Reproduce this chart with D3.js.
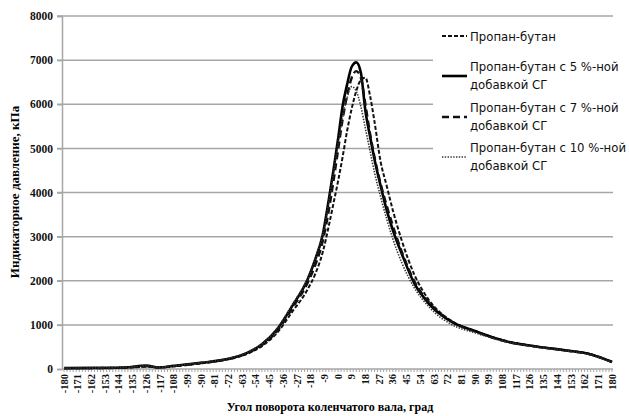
<!DOCTYPE html>
<html>
<head>
<meta charset="utf-8">
<script src="https://cdn.jsdelivr.net/npm/d3@7"></script>
<style>
  body { margin: 0; background: #fff; }
  svg { display: block; }
</style>
</head>
<body>
<script>
// crank angle, degrees
var angles = [-180, -160, -140, -126, -118, -108, -90, -72, -60, -50, -40, -30, -20, -15, -10, -6, -3, 0, 3, 6, 9, 12, 15, 18, 21, 24, 28, 32, 36, 42, 50, 60, 75, 90, 110, 130, 150, 165, 180];

// indicated pressure, kPa
var propaneButane = [15, 20, 30, 50, 40, 60, 130, 220, 340, 520, 820, 1300, 1800, 2150, 2650, 3250, 3750, 4250, 4800, 5400, 5900, 6300, 6550, 6600, 6200, 5600, 4700, 4150, 3600, 2900, 2150, 1550, 1080, 860, 640, 510, 420, 340, 160];
var sg5 = [20, 25, 35, 80, 35, 70, 140, 230, 360, 560, 900, 1430, 2030, 2480, 3050, 3850, 4500, 5200, 5950, 6450, 6850, 6950, 6720, 5850, 5280, 4750, 4150, 3600, 3150, 2600, 1950, 1470, 1060, 860, 630, 510, 420, 340, 160];
var sg7 = [20, 20, 30, 60, 35, 65, 135, 225, 350, 540, 860, 1380, 1950, 2350, 2900, 3600, 4250, 4950, 5650, 6200, 6600, 6750, 6600, 6000, 5350, 4800, 4200, 3700, 3250, 2650, 2000, 1500, 1070, 850, 630, 510, 420, 340, 160];
var sg10 = [20, 25, 35, 70, 40, 70, 145, 240, 370, 570, 920, 1460, 2050, 2500, 3050, 3800, 4450, 5100, 5700, 6150, 6400, 6300, 5950, 5450, 4950, 4450, 3900, 3400, 2950, 2400, 1850, 1400, 1000, 820, 620, 500, 410, 330, 150];

var yTicks = [0, 1000, 2000, 3000, 4000, 5000, 6000, 7000, 8000];
var xTickLabels = [-180, -171, -162, -153, -144, -135, -126, -117, -108, -99, -90, -81, -72, -63, -54, -45, -36, -27, -18, -9, 0, 9, 18, 27, 36, 45, 54, 63, 72, 81, 90, 99, 108, 117, 126, 135, 144, 153, 162, 171, 180];

var seriesNames = ['Пропан-бутан', 'Пропан-бутан с 5 %-ной|добавкой СГ', 'Пропан-бутан с 7 %-ной|добавкой СГ', 'Пропан-бутан с 10 %-ной|добавкой СГ'];

var styles = [
  {dash: '4,2', width: 2, color: '#111'},
  {dash: null, width: 2.6, color: '#000'},
  {dash: '7,4', width: 2.4, color: '#111'},
  {dash: '1.4,1.4', width: 1.6, color: '#333'}
];

var W = 629, H = 416;
var svg = d3.select('body').append('svg').attr('width', W).attr('height', H);

var x = d3.scaleLinear().domain([-180, 180]).range([64, 612]);
var y = d3.scaleLinear().domain([0, 8000]).range([369, 16]);

var serif = '"Liberation Serif", "Times New Roman", serif';
var narrow = '"Liberation Sans Narrow", "DejaVu Sans Condensed", "Liberation Sans", sans-serif';

// gridlines
svg.append('g').selectAll('line').data(yTicks.filter(function(d) { return d > 0; }))
  .enter().append('line')
  .attr('x1', 57).attr('x2', 613)
  .attr('y1', function(d) { return y(d); })
  .attr('y2', function(d) { return y(d); })
  .attr('stroke', '#a6a6a6').attr('stroke-width', 1.5);

// y axis
var yAxis = svg.append('g').attr('transform', 'translate(62,0)')
  .call(d3.axisLeft(y).tickValues(yTicks).tickSize(5).tickFormat(d3.format('d')));
yAxis.select('.domain').attr('stroke', '#a6a6a6').attr('stroke-width', 1.5);
yAxis.selectAll('.tick line').attr('stroke', '#a6a6a6').attr('stroke-width', 1.5);
yAxis.selectAll('text')
  .attr('x', -9)
  .style('font-family', serif).style('font-size', '11.5px').style('font-weight', 'bold').attr('fill', '#111');

// x axis with minor ticks
var xg = svg.append('g').attr('transform', 'translate(0,369)');
xg.append('line').attr('x1', 62).attr('x2', 613).attr('stroke', '#a6a6a6').attr('stroke-width', 1.5);
xg.selectAll('line.minor').data(d3.range(-180, 181, 2)).enter().append('line')
  .attr('class', 'minor')
  .attr('x1', function(d) { return x(d); }).attr('x2', function(d) { return x(d); })
  .attr('y1', 0).attr('y2', 3)
  .attr('stroke', '#a6a6a6').attr('stroke-width', 1);
xg.selectAll('text').data(xTickLabels).enter().append('text')
  .attr('transform', function(d) { return 'translate(' + x(d) + ',5) rotate(-90)'; })
  .attr('text-anchor', 'end')
  .attr('dy', '0.35em')
  .style('font-family', serif).style('font-size', '10.5px').style('font-weight', 'bold')
  .attr('fill', '#111')
  .text(function(d) { return d; });

// axis titles
svg.append('text')
  .attr('x', 330).attr('y', 411)
  .attr('text-anchor', 'middle')
  .style('font-family', serif).style('font-size', '12px').style('font-weight', 'bold')
  .text('Угол поворота коленчатого вала, град');

svg.append('text')
  .attr('transform', 'translate(19,192) rotate(-90)')
  .attr('text-anchor', 'middle')
  .style('font-family', serif).style('font-size', '13px').style('font-weight', 'bold')
  .text('Индикаторное давление, кПа');

// series lines
var allSeries = [propaneButane, sg5, sg7, sg10];
var line = d3.line()
  .x(function(d, i) { return x(angles[i]); })
  .y(function(d) { return y(d); })
  .curve(d3.curveMonotoneX);

svg.append('g').selectAll('path').data(allSeries).enter().append('path')
  .attr('d', line)
  .attr('fill', 'none')
  .attr('stroke', function(d, i) { return styles[i].color; })
  .attr('stroke-width', function(d, i) { return styles[i].width; })
  .attr('stroke-dasharray', function(d, i) { return styles[i].dash; })
  .attr('stroke-linejoin', 'round');

// legend
var legend = svg.append('g');
legend.append('rect').attr('x', 433).attr('y', 22).attr('width', 196).attr('height', 164).attr('fill', '#fff');

var legendY = [36, 76, 117, 157];
seriesNames.forEach(function(name, i) {
  var g = legend.append('g').attr('transform', 'translate(0,' + legendY[i] + ')');
  g.append('line').attr('x1', 442).attr('x2', 467).attr('y1', 0).attr('y2', 0)
    .attr('stroke', styles[i].color)
    .attr('stroke-width', styles[i].width)
    .attr('stroke-dasharray', styles[i].dash);
  var lines = name.split('|');
  var t = g.append('text')
    .style('font-family', narrow).style('font-size', '13px')
    .attr('fill', '#111');
  if (lines.length === 1) {
    t.append('tspan').attr('x', 470).attr('y', 5).text(lines[0]);
  } else {
    t.append('tspan').attr('x', 470).attr('y', -5).text(lines[0]);
    t.append('tspan').attr('x', 470).attr('y', 13).text(lines[1]);
  }
});
</script>
</body>
</html>
